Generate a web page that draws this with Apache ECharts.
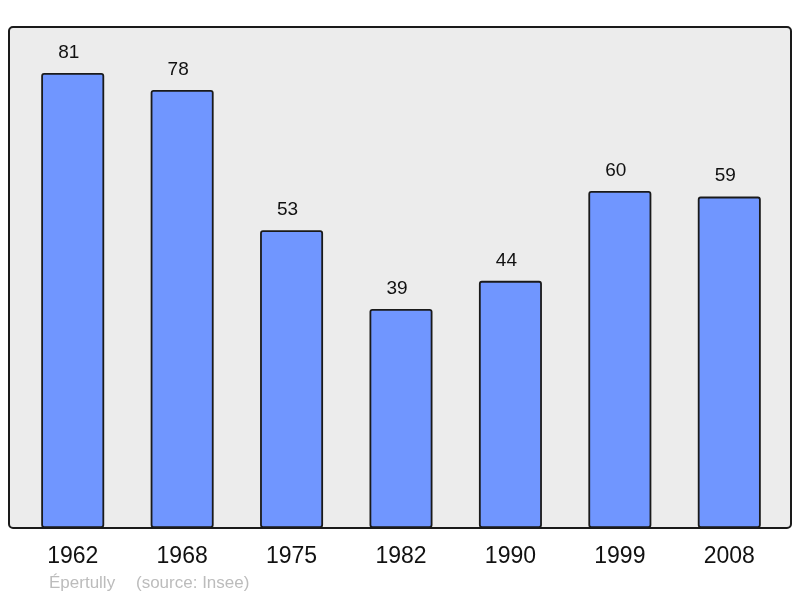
<!DOCTYPE html>
<html>
<head>
    <meta charset="utf-8">
    <script src="https://cdn.jsdelivr.net/npm/echarts@6/dist/echarts.min.js"></script>
</head>
<style>
    body {
        margin: 0;
    }

    #chart {
        width: 800px;
        height: 598px;
    }
</style>
<body>
    <div id="chart"></div>
    <script>
        // population by census year
        const years = ['1962', '1968', '1975', '1982', '1990', '1999', '2008']
        const population = [81, 78, 53, 39, 44, 60, 59]
        const townName = 'Épertully'
        const sourceText = '(source: Insee)'

        const myChart = echarts.init(document.getElementById('chart'))

        const option = {
            animation: false,
            backgroundColor: '#fff',
            textStyle: {
                fontFamily: 'Liberation Sans, Arial, sans-serif'
            },
            grid: {
                left: 18,
                right: 16,
                top: 27,
                bottom: 70
            },
            graphic: [
                {
                    type: 'rect',
                    z: -10,
                    shape: { x: 9, y: 27, width: 782, height: 501, r: 4 },
                    style: { fill: '#ececec', stroke: '#1a1a1a', lineWidth: 2 }
                },
                {
                    type: 'text',
                    left: 49,
                    top: 575,
                    style: { text: townName, fill: '#bcbcbc', font: '17px Liberation Sans, Arial, sans-serif' }
                },
                {
                    type: 'text',
                    left: 136,
                    top: 575,
                    style: { text: sourceText, fill: '#bcbcbc', font: '17px Liberation Sans, Arial, sans-serif' }
                }
            ],
            xAxis: {
                type: 'category',
                data: years,
                axisLine: { show: false },
                axisTick: { show: false },
                axisLabel: {
                    color: '#111',
                    fontSize: 23,
                    margin: 17
                }
            },
            yAxis: {
                type: 'value',
                min: 0,
                max: 89.2,
                show: false,
                splitLine: { show: false }
            },
            series: [{
                type: 'bar',
                data: population,
                barWidth: 63,
                itemStyle: {
                    color: '#7096ff',
                    borderColor: '#1a1a1a',
                    borderWidth: 1.8,
                    borderRadius: 2
                },
                label: {
                    show: true,
                    position: 'top',
                    distance: 11,
                    offset: [-4, 0],
                    color: '#111',
                    fontSize: 19
                }
            }]
        }
        myChart.setOption(option)
    </script>
</body>
</html>
